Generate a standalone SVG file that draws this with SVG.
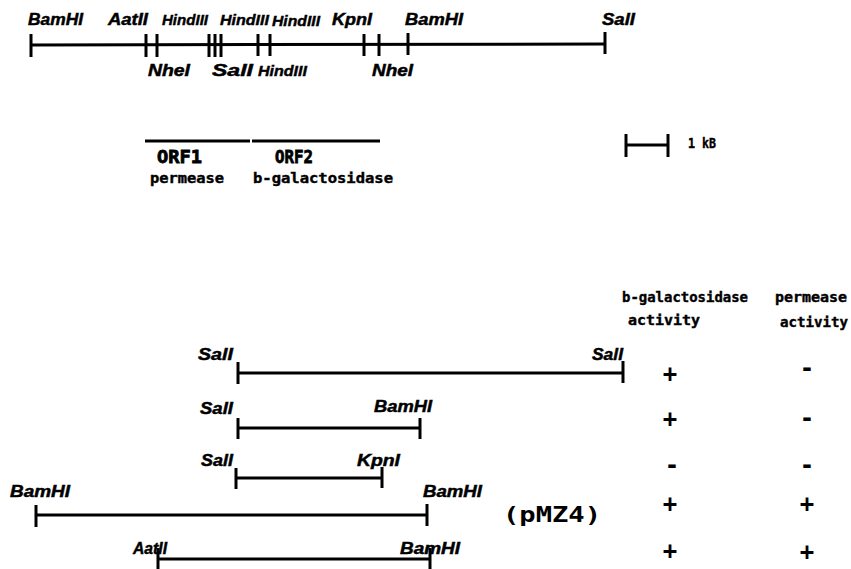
<svg xmlns="http://www.w3.org/2000/svg" width="851" height="569" viewBox="0 0 851 569">
<style>
.ln{stroke:#000;stroke-width:3;fill:none;stroke-linecap:butt}
.tk{stroke:#000;stroke-width:3}
.enz{font-family:"Liberation Sans",Arial,sans-serif;font-weight:bold;font-style:italic;font-size:17px;fill:#000;stroke:#000;stroke-width:0.5}
.enzs{font-family:"Liberation Sans",Arial,sans-serif;font-weight:bold;font-style:italic;font-size:14px;fill:#000;stroke:#000;stroke-width:0.4}
.mono{font-family:"DejaVu Sans Mono","Liberation Mono",monospace;font-weight:bold;font-size:14px;fill:#000;stroke:#000;stroke-width:0.4}
.orf{font-family:"DejaVu Sans Mono","Liberation Mono",monospace;font-weight:bold;font-size:18px;fill:#000;stroke:#000;stroke-width:0.8}
.sign{font-family:"DejaVu Sans Mono","Liberation Mono",monospace;font-weight:bold;font-size:24px;fill:#000;text-anchor:middle}
.pmz{font-family:"DejaVu Sans Mono","Liberation Mono",monospace;font-weight:bold;font-size:21px;fill:#000}
</style>
<rect width="851" height="569" fill="#fff"/>
<g id="restriction-map">
<line class="ln" x1="31" y1="45" x2="605" y2="44"/>
<g class="tk">
<line x1="31" y1="34" x2="31" y2="57"/>
<line x1="146" y1="34" x2="146" y2="57"/>
<line x1="157" y1="34" x2="157" y2="57"/>
<line x1="209" y1="34" x2="209" y2="57"/>
<line x1="215" y1="34" x2="215" y2="57"/>
<line x1="221" y1="34" x2="221" y2="57"/>
<line x1="258" y1="34" x2="258" y2="56"/>
<line x1="270" y1="34" x2="270" y2="56"/>
<line x1="364" y1="34" x2="364" y2="56"/>
<line x1="379" y1="34" x2="379" y2="56"/>
<line x1="408" y1="33" x2="408" y2="55"/>
<line x1="605" y1="32" x2="605" y2="54"/>
</g>
<text class="enz" x="28" y="25" textLength="55" lengthAdjust="spacingAndGlyphs">BamHI</text>
<text class="enz" x="108" y="25" textLength="40" lengthAdjust="spacingAndGlyphs">AatII</text>
<text class="enzs" x="162" y="25" textLength="46" lengthAdjust="spacingAndGlyphs">HindIII</text>
<text class="enzs" x="220" y="25" textLength="49" lengthAdjust="spacingAndGlyphs">HindIII</text>
<text class="enzs" x="272" y="26" textLength="48" lengthAdjust="spacingAndGlyphs">HindIII</text>
<text class="enz" x="332" y="25" textLength="40" lengthAdjust="spacingAndGlyphs">KpnI</text>
<text class="enz" x="405" y="25" textLength="58" lengthAdjust="spacingAndGlyphs">BamHI</text>
<text class="enz" x="602" y="25" textLength="33" lengthAdjust="spacingAndGlyphs">SalI</text>
<text class="enz" x="148" y="76" textLength="42" lengthAdjust="spacingAndGlyphs">NheI</text>
<text class="enz" x="212" y="76" textLength="41" lengthAdjust="spacingAndGlyphs">SalI</text>
<text class="enzs" x="258" y="76" textLength="49" lengthAdjust="spacingAndGlyphs">HindIII</text>
<text class="enz" x="372" y="76" textLength="41" lengthAdjust="spacingAndGlyphs">NheI</text>
</g>
<g id="orfs">
<line class="ln" x1="145" y1="141" x2="250" y2="141"/>
<line class="ln" x1="252" y1="141" x2="380" y2="141"/>
<text class="orf" x="157" y="163" textLength="45" lengthAdjust="spacingAndGlyphs">ORF1</text>
<text class="orf" x="275" y="163" textLength="38" lengthAdjust="spacingAndGlyphs">ORF2</text>
<text class="mono" x="150" y="183" textLength="74" lengthAdjust="spacingAndGlyphs">permease</text>
<text class="mono" x="253" y="183" textLength="140" lengthAdjust="spacingAndGlyphs">b-galactosidase</text>
</g>
<g id="scale-bar">
<line class="ln" x1="625" y1="145" x2="668" y2="145"/>
<line class="tk" x1="626" y1="134" x2="626" y2="157"/>
<line class="tk" x1="668" y1="134" x2="668" y2="157"/>
<text class="mono" x="688" y="148" font-size="10" textLength="28" lengthAdjust="spacingAndGlyphs">1 kB</text>
</g>
<g id="header">
<text class="mono" x="622" y="302" textLength="126" lengthAdjust="spacingAndGlyphs">b-galactosidase</text>
<text class="mono" x="775" y="302" textLength="72" lengthAdjust="spacingAndGlyphs">permease</text>
<text class="mono" x="628" y="325" textLength="72" lengthAdjust="spacingAndGlyphs">activity</text>
<text class="mono" x="780" y="327" textLength="68" lengthAdjust="spacingAndGlyphs">activity</text>
</g>
<g id="connectors">
<line class="ln" x1="238" y1="373" x2="623" y2="373"/>
<line class="tk" x1="238" y1="362" x2="238" y2="384"/>
<line class="tk" x1="623" y1="361" x2="623" y2="383"/>
<line class="ln" x1="238" y1="428" x2="420" y2="428"/>
<line class="tk" x1="238" y1="418" x2="238" y2="439"/>
<line class="tk" x1="420" y1="418" x2="420" y2="439"/>
<line class="ln" x1="236" y1="478" x2="382" y2="478"/>
<line class="tk" x1="236" y1="468" x2="236" y2="489"/>
<line class="tk" x1="382" y1="467" x2="382" y2="488"/>
<line class="ln" x1="36" y1="515" x2="427" y2="515"/>
<line class="tk" x1="36" y1="505" x2="36" y2="527"/>
<line class="tk" x1="427" y1="504" x2="427" y2="526"/>
<line class="ln" x1="158" y1="559" x2="430" y2="559"/>
<line class="tk" x1="158" y1="548" x2="158" y2="569"/>
<line class="tk" x1="430" y1="548" x2="430" y2="569"/>
</g>
<g id="construct-1">
<text class="enz" x="198" y="360" font-size="15" textLength="35" lengthAdjust="spacingAndGlyphs">SalI</text>
<text class="enz" x="592" y="360" font-size="14" textLength="31" lengthAdjust="spacingAndGlyphs">SalI</text>
<text class="sign" x="670" y="382">+</text>
<text class="sign" x="807" y="376">-</text>
</g>
<g id="construct-2">
<text class="enz" x="200" y="414" font-size="15" textLength="33" lengthAdjust="spacingAndGlyphs">SalI</text>
<text class="enz" x="374" y="412" textLength="58" lengthAdjust="spacingAndGlyphs">BamHI</text>
<text class="sign" x="670" y="427">+</text>
<text class="sign" x="807" y="426">-</text>
</g>
<g id="construct-3">
<text class="enz" x="201" y="466" font-size="15" textLength="32" lengthAdjust="spacingAndGlyphs">SalI</text>
<text class="enz" x="357" y="466" textLength="43" lengthAdjust="spacingAndGlyphs">KpnI</text>
<text class="sign" x="672" y="473">-</text>
<text class="sign" x="807" y="473">-</text>
</g>
<g id="construct-4">
<text class="enz" x="10" y="497" textLength="60" lengthAdjust="spacingAndGlyphs">BamHI</text>
<text class="enz" x="423" y="497" textLength="59" lengthAdjust="spacingAndGlyphs">BamHI</text>
<text class="pmz" x="503" y="522" textLength="98" lengthAdjust="spacingAndGlyphs">(pMZ4)</text>
<text class="sign" x="670" y="512">+</text>
<text class="sign" x="807" y="512">+</text>
</g>
<g id="construct-5">
<text class="enz" x="133" y="554" textLength="34" lengthAdjust="spacingAndGlyphs">AatII</text>
<text class="enz" x="400" y="554" textLength="60" lengthAdjust="spacingAndGlyphs">BamHI</text>
<text class="sign" x="670" y="559">+</text>
<text class="sign" x="807" y="560">+</text>
</g>
</svg>
